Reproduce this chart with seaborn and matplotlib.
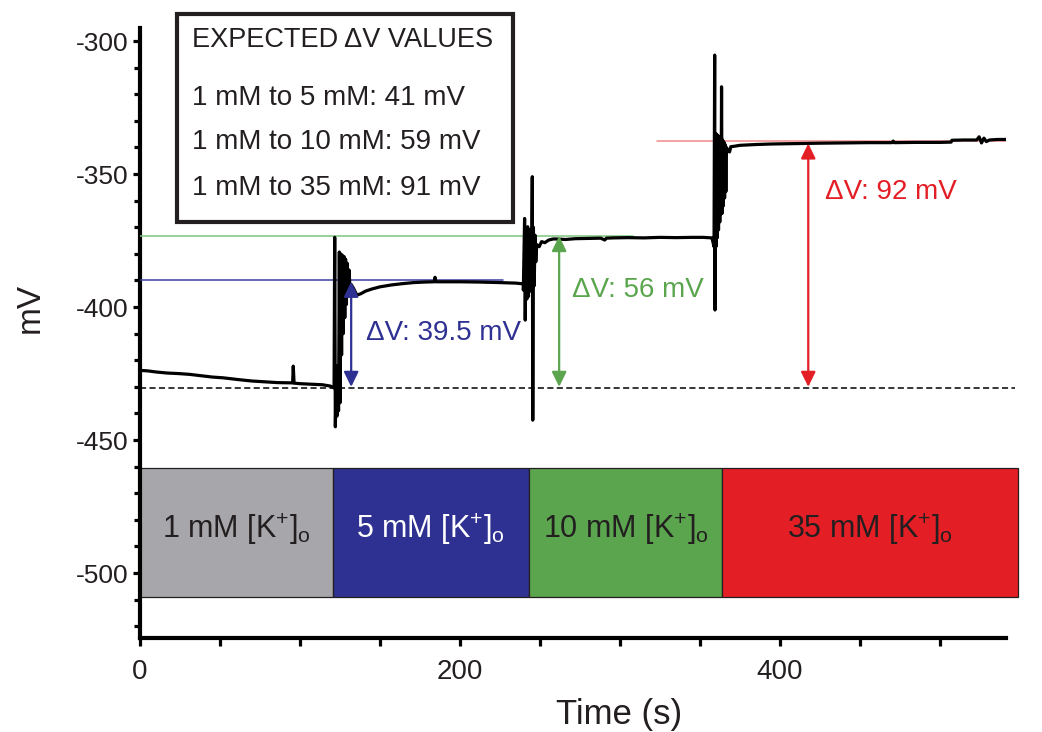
import numpy as np
import pandas as pd
import matplotlib
matplotlib.use("Agg")
import matplotlib.pyplot as plt
import seaborn as sns
from matplotlib.patches import Rectangle
from matplotlib.ticker import MultipleLocator

# ---------------- data ----------------
time_s = [
    # 1 mM baseline
    0, 5, 10, 17, 24, 31, 38, 45, 52, 62, 70, 78, 86, 95.4, 95.8, 96.3, 100, 107, 114, 119, 121.3,
    # switch to 5 mM
    121.7, 122.1, 122.6, 123.1, 123.6, 124.1, 124.6, 125.0, 125.5, 126.0, 126.5, 127.0, 127.5,
    128.0, 128.5, 129.0, 129.5, 130.0, 130.6, 131.2, 132.0,
    133.5, 135.5, 138, 141, 145, 150, 157, 164, 171, 178, 184.0, 184.4, 184.9, 192, 200, 212, 225, 235, 239.8,
    # switch to 10 mM
    239.6, 240.4, 240.8, 241.3, 241.8, 242.3, 242.8, 243.3, 243.8, 244.3, 244.8, 245.2, 245.5, 245.9,
    246.4, 246.9, 247.4, 248.0, 249.5, 251, 253, 255.5, 258.3,
    260, 266, 272, 280, 288, 290.5, 291.5, 296, 305, 315, 325, 335, 345, 352, 357.5, 358.8,
    # switch to 35 mM
    359.2, 359.4, 359.6, 360.0, 360.4, 360.8, 361.2, 361.6, 362.0, 362.4, 362.8, 363.2, 363.5, 363.8,
    364.2, 364.6, 365.0, 365.4, 365.8, 366.2, 366.6, 367.2, 368.5, 369.3, 371,
    375, 385, 395, 405, 415, 425, 440, 455, 470, 470.8, 471.5, 485, 500, 507.0, 507.5, 515, 523,
    524.5, 526, 527.5, 529, 531, 536, 541.3,
]
trace_mv = [
    -423.8, -424.0, -424.4, -424.8, -425.0, -425.3, -425.8, -426.3, -426.6, -427.3, -427.8, -428.1,
    -428.4, -428.5, -422.2, -428.6, -428.8, -429.0, -429.2, -429.7, -430.4,
    -373.8, -445.0, -428.0, -441.0, -422.0, -439.0, -379.3, -436.0, -380.0, -418.0, -380.5, -410.0,
    -381.0, -404.0, -382.0, -399.0, -383.5, -396.0, -386.0, -392.0, -391.5,
    -393.0, -395.5, -395.0, -394.0, -393.2, -392.4, -391.7, -391.2, -390.8, -390.6, -390.5, -388.8,
    -390.5, -390.5, -390.5, -390.6, -390.8, -391.0, -391.3,
    -393.6, -366.7, -404.9, -372.0, -397.0, -369.8, -396.0, -371.0, -394.0, -373.0, -385.0, -351.0,
    -442.5, -370.0, -392.0, -373.0, -383.0, -376.5, -377.3, -375.4, -375.8, -374.8, -374.4,
    -374.4, -374.6, -374.3, -374.2, -374.1, -374.8, -374.1, -374.0, -373.9, -374.0, -373.8, -373.9,
    -373.8, -373.8, -374.0, -377.3,
    -305.3, -401.1, -334.7, -377.3, -335.0, -374.0, -335.5, -371.0, -336.0, -368.0, -336.5, -365.0,
    -317.2, -364.8, -337.2, -362.0, -338.0, -359.0, -339.0, -356.6, -340.0, -341.0, -341.7, -339.7, -339.6,
    -339.2, -338.9, -338.7, -338.6, -338.5, -338.4, -338.3, -338.2, -338.2, -337.6, -338.2, -338.1,
    -338.1, -338.0, -337.3, -337.2, -337.2, -336.0, -338.3, -336.5, -337.8, -337.2, -337.0, -337.0,
]

# solution periods (bottom bar)
period_labels = ["1 mM [K$^{+}$]$_{\\mathrm{o}}$", "5 mM [K$^{+}$]$_{\\mathrm{o}}$",
                 "10 mM [K$^{+}$]$_{\\mathrm{o}}$", "35 mM [K$^{+}$]$_{\\mathrm{o}}$"]
period_edges = [0, 120.6, 243, 364, 548.5]
period_colors = ["#a7a7ab", "#2e3192", "#5aa54e", "#e41e25"]
period_text_colors = ["#231f20", "#ffffff", "#231f20", "#231f20"]
bar_bottom_mv = -509
bar_top_mv = -460.5

# measured changes
baseline_mv = -430.6
plateau_mv = [-389.85, -373.3, -337.5]
plateau_span = [(0, 227), (0, 308), (323, 541.3)]
arrow_t = [132, 262, 417.7]
arrow_top = [-390.5, -373.3, -338.5]
dv_labels = ["ΔV: 39.5 mV", "ΔV: 56 mV", "ΔV: 92 mV"]
dv_text_pos = [(141.25, -409.9), (270, -393.6), (428, -356.6)]
dv_colors = ["#2e3192", "#5aa54e", "#e41e25"]
hline_colors = ["#3a3f9f", "#7dc47d", "#f08a8a"]

expected_title = "EXPECTED ΔV VALUES"
expected_lines = ["1 mM to 5 mM: 41 mV", "1 mM to 10 mM: 59 mV", "1 mM to 35 mM: 91 mV"]

# ---------------- style ----------------
sns.set_theme(style="ticks")
plt.rcParams["font.family"] = ["Liberation Sans", "DejaVu Sans"]
plt.rcParams["axes.unicode_minus"] = False
plt.rcParams["mathtext.fontset"] = "custom"
plt.rcParams["mathtext.rm"] = "Liberation Sans"
plt.rcParams["mathtext.it"] = "Liberation Sans:italic"
plt.rcParams["mathtext.bf"] = "Liberation Sans:bold"

fig = plt.figure(figsize=(10.42, 7.32), dpi=100)
ax = fig.add_axes([140 / 1042, 94 / 732, 866 / 1042, 610 / 732])

df = pd.DataFrame({"Time (s)": time_s, "mV": trace_mv})
sns.lineplot(data=df, x="Time (s)", y="mV", sort=False, estimator=None,
             color="black", lw=2.3, ax=ax, zorder=4)

# baseline dashed
ax.plot([0, 547], [baseline_mv, baseline_mv], ls=(0, (4, 2.2)), color="black", lw=1.1,
        clip_on=False, zorder=3)

# plateau lines, arrows, labels
for mv, span, col in zip(plateau_mv, plateau_span, hline_colors):
    ax.plot(span, [mv, mv], color=col, lw=1.1, zorder=3)
for t, top, col in zip(arrow_t, arrow_top, dv_colors):
    ax.annotate("", xy=(t, top), xytext=(t, baseline_mv + 0.6),
                arrowprops=dict(arrowstyle="<|-|>,head_length=0.45,head_width=0.22",
                                mutation_scale=20, color=col, lw=1.6,
                                shrinkA=0, shrinkB=0), zorder=5)
for lab, (tx, ty), col in zip(dv_labels, dv_text_pos, dv_colors):
    ax.text(tx, ty, lab, color=col, fontsize=20, ha="left", va="center", zorder=6)

# solution bars
widths = np.diff(period_edges)
ax.bar(period_edges[:-1], bar_top_mv - bar_bottom_mv, width=widths, bottom=bar_bottom_mv,
       align="edge", color=period_colors, edgecolor="#231f20", linewidth=0.9,
       clip_on=False, zorder=2)
for i, lab in enumerate(period_labels):
    cx = (period_edges[i] + period_edges[i + 1]) / 2
    ax.text(cx, -483.5, lab, color=period_text_colors[i], fontsize=22,
            ha="center", va="center", zorder=6, clip_on=False)

# expected values box
ax.add_patch(Rectangle((23, -367.9), 210.3, 77.9, fill=True, facecolor="white",
                       edgecolor="#231f20", lw=3.0, clip_on=False, zorder=7))
ax.text(32.2, -299.5, expected_title, fontsize=19.5, color="#231f20",
        ha="left", va="center", zorder=8, clip_on=False)
for ypos, line in zip([-321.5, -337.9, -355.4], expected_lines):
    ax.text(32.2, ypos, line, fontsize=20, color="#231f20", ha="left", va="center", zorder=8)

# axes
ax.set_xlim(0, 541.3)
ax.set_ylim(-524.4, -295.1)
ax.set_xticks([0, 200, 400])
ax.xaxis.set_minor_locator(MultipleLocator(50))
ax.set_yticks([-300, -350, -400, -450, -500])
ax.yaxis.set_minor_locator(MultipleLocator(10))
sns.despine(ax=ax)
for s in ["left", "bottom"]:
    ax.spines[s].set_linewidth(3.0)
    ax.spines[s].set_color("black")
ax.tick_params(axis="y", which="major", length=5, width=2.3, pad=3.5, labelsize=19,
               color="black", labelcolor="#231f20", direction="out")
ax.tick_params(axis="y", which="minor", length=4, width=2.3, color="black", direction="out")
ax.tick_params(axis="x", which="major", length=6, width=2.3, pad=9, labelsize=20,
               color="black", labelcolor="#231f20", direction="out")
ax.tick_params(axis="x", which="minor", length=6, width=2.3, color="black", direction="out")

ax.set_xlabel("Time (s)", fontsize=25, color="#231f20")
ax.set_ylabel("mV", fontsize=24, color="#231f20")
ax.xaxis.set_label_coords(0.553, -0.098)
ax.xaxis.label.set_va("top")
ax.yaxis.set_label_coords(-0.127, 0.541)
ax.yaxis.label.set_va("center")

fig.savefig("out.png", dpi=100)
